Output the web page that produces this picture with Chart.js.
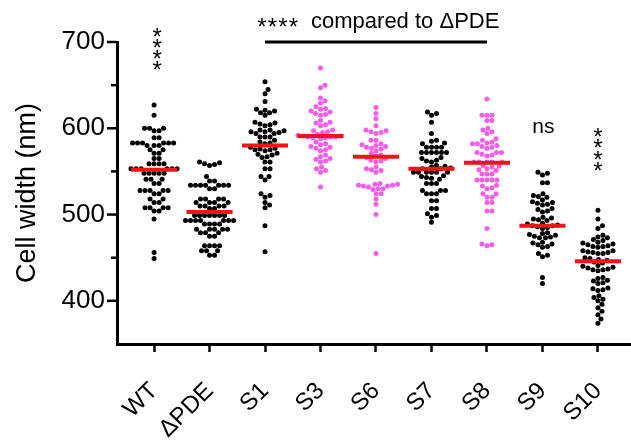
<!DOCTYPE html>
<html><head><meta charset="utf-8">
<script src="https://cdn.jsdelivr.net/npm/chart.js@4.4.1/dist/chart.umd.min.js"></script>
<style>html,body{margin:0;padding:0;background:#fff;overflow:hidden}#wrap{width:631px;height:441px;overflow:hidden}</style>
</head><body><div id="wrap"><canvas id="c" width="636" height="441"></canvas></div>
<script>
const categories = ['WT','ΔPDE','S1','S3','S6','S7','S8','S9','S10'];
const WT = [627,615,600,600,600,597,597,589,589,583,583,583,583,583,583,580,580,580,575,575,571,571,565,565,559,559,559,559,553,553,553,553,553,553,548,548,548,548,548,541,541,541,536,536,528,528,528,528,528,524,524,518,518,514,514,508,508,508,508,504,504,495,456,449];
const dPDE = [561,560,559,558,557,544,539,539,534,534,534,534,534,534,534,530,530,518,518,518,518,514,514,514,514,510,510,510,510,507,507,499,499,499,499,499,499,499,493,493,493,493,493,493,493,489,489,489,489,483,483,483,483,483,479,479,479,475,475,464,464,464,464,458,458,458,453,453];
const S1 = [654,645,640,631,622,621,620,618,618,615,607,606,605,604,603,598,598,597,596,596,595,594,594,590,590,590,586,584,583,582,578,577,576,575,575,574,571,570,569,567,566,561,561,553,553,544,544,540,524,522,520,514,511,508,487,457];
const S3 = [670,650,647,635,632,629,625,623,622,620,619,617,616,615,609,607,606,604,603,598,597,596,595,593,592,591,591,590,590,590,589,589,588,584,582,581,579,578,577,575,574,569,567,565,564,562,561,555,553,551,549,532];
const S6 = [624,617,611,603,598,597,596,595,594,586,586,582,581,580,579,578,577,576,574,571,569,568,566,565,563,562,561,555,553,552,551,549,536,535,535,534,534,533,533,532,530,530,529,524,524,518,512,500,455];
const S7 = [619,617,615,607,594,586,585,583,582,578,578,578,578,572,572,572,572,572,572,566,565,563,562,561,557,556,555,554,553,553,549,549,549,549,549,549,545,544,543,542,541,536,536,536,528,528,528,524,524,524,516,516,507,507,501,499,497,491];
const S8 = [634,615,615,615,609,609,600,598,596,594,588,586,584,583,582,582,580,579,578,577,572,572,572,570,569,568,561,561,561,561,561,557,556,555,553,552,551,547,547,547,540,540,540,540,540,534,533,531,530,524,524,520,520,514,514,504,504,484,466,465,464];
const S9 = [549,548,546,537,537,524,522,521,520,517,515,514,513,512,511,507,506,504,503,497,496,495,494,493,490,489,488,487,487,486,485,484,479,478,477,476,475,474,473,473,468,467,466,465,463,462,455,453,451,427,420];
const S10 = [505,495,487,484,476,474,473,471,470,468,467,466,465,464,463,463,462,458,458,457,456,456,455,455,450,449,448,447,445,444,441,440,439,438,437,436,436,435,427,426,424,423,421,420,415,414,413,412,406,404,402,400,396,392,388,384,379,374];
const seriesValues = [WT, dPDE, S1, S3, S6, S7, S8, S9, S10];
const medians = [552,503,580,591,567,553,560,487,446];
const pinkGroups = ['S3','S6','S8'];
const yTickLabels = [400,500,600,700];
const yMinorTicks = [450,550,650];
const compareLabel = 'compared to ΔPDE';
const compareFrom = 'S1', compareTo = 'S8';
const stars = '****';
const nsLabel = 'ns';

const FAMILY = '"Liberation Sans", Arial, Helvetica, sans-serif';
const X_MIN = -0.668, X_MAX = 8.614, Y_MIN = 350, Y_MAX = 700;
const AREA_W = 631 - 117, AREA_H = 344 - 42;
const pxX = AREA_W / (X_MAX - X_MIN), pxY = AREA_H / (Y_MAX - Y_MIN);
const DIAM = 5.0;

function swarmOffsets(values){
  const idx = values.map((v,i)=>i).sort((a,b)=>values[a]-values[b]);
  const placed = []; const off = new Array(values.length).fill(0);
  for (const i of idx){
    const py = values[i]*pxY;
    for (let s=0; s<400; s++){
      const cand = (s===0?0:(s%2===1?1:-1)*Math.ceil(s/2)*0.5);
      let ok = true;
      for (const p of placed){
        const dx = cand-p[0], dy = py-p[1];
        if (dx*dx+dy*dy < DIAM*DIAM){ ok=false; break; }
      }
      if (ok){ placed.push([cand,py]); off[i]=cand/pxX; break; }
    }
  }
  return off;
}

const datasets = [];
const medData = [];
categories.forEach((c,i)=>{
  medData.push({x:i-0.415,y:medians[i]},{x:i+0.415,y:medians[i]},{x:i+0.5,y:null});
});
datasets.push({type:'line', data:medData, borderColor:'#f01414', borderWidth:4, pointRadius:0, spanGaps:false, order:0, borderCapStyle:'butt'});
seriesValues.forEach((vals,i)=>{
  const off = swarmOffsets(vals);
  const col = pinkGroups.includes(categories[i]) ? '#f45de6' : '#000000';
  datasets.push({type:'scatter', data: vals.map((v,j)=>({x:i+off[j], y:v})), pointRadius:2.5, pointBackgroundColor:col, pointBorderWidth:0, order:1});
});

function drawStar(ctx, x, y){
  const m = ctx.measureText('*');
  const A = m.actualBoundingBoxAscent, D = m.actualBoundingBoxDescent;
  ctx.fillText('*', x, y + (A - D)/2);
}

const annot = {
  id:'annot',
  afterDraw(chart){
    const {ctx, chartArea} = chart; const x = chart.scales.x, y = chart.scales.y;
    ctx.save();
    ctx.strokeStyle = '#000'; ctx.fillStyle = '#000'; ctx.lineWidth = 2.5;
    const left = chartArea.left - 1;
    yTickLabels.forEach(v=>{ const py = y.getPixelForValue(v); ctx.beginPath(); ctx.moveTo(left-9,py); ctx.lineTo(left,py); ctx.stroke(); });
    yMinorTicks.forEach(v=>{ const py = y.getPixelForValue(v); ctx.beginPath(); ctx.moveTo(left-5,py); ctx.lineTo(left,py); ctx.stroke(); });
    const x1 = x.getPixelForValue(categories.indexOf(compareFrom));
    const x2 = x.getPixelForValue(categories.indexOf(compareTo));
    const by = y.getPixelForValue(Y_MAX);
    ctx.lineWidth = 3; ctx.beginPath(); ctx.moveTo(x1, by); ctx.lineTo(x2, by); ctx.stroke();
    ctx.font = '22px ' + FAMILY; ctx.textAlign = 'left'; ctx.textBaseline = 'alphabetic';
    ctx.fillText(compareLabel, x1 + 46, by - 14);
    ctx.font = '24px ' + FAMILY; ctx.textAlign = 'center';
    for (let k=0;k<stars.length;k++) drawStar(ctx, x1 - 3 + k*10.5, by - 19.5);
    const wx = x.getPixelForValue(0) + 3;
    for (let k=0;k<stars.length;k++) drawStar(ctx, wx, by - 10 + k*11.3);
    const sx = x.getPixelForValue(8);
    const sTop = y.getPixelForValue(595);
    for (let k=0;k<stars.length;k++) drawStar(ctx, sx, sTop + k*11.3);
    ctx.font = '21px ' + FAMILY;
    ctx.fillText(nsLabel, x.getPixelForValue(7) + 1, y.getPixelForValue(600) + 5);
    ctx.restore();
  }
};

new Chart(document.getElementById('c'), {
  type:'scatter',
  data:{datasets},
  options:{
    responsive:false, animation:false, devicePixelRatio:1,
    layout:{padding:{top:42,left:0,right:0,bottom:0}},
    plugins:{legend:{display:false}, tooltip:{enabled:false}},
    scales:{
      x:{type:'linear', min:X_MIN, max:X_MAX,
        afterBuildTicks: s => { s.ticks = categories.map((c,i)=>({value:i})); },
        afterFit: s => { s.height = 97; s.paddingRight = 0; s.paddingLeft = 0; },
        grid:{display:true, drawOnChartArea:false, drawTicks:true, tickLength:8, tickWidth:2.5, tickColor:'#000'},
        border:{display:true, width:3, color:'#000'},
        ticks:{autoSkip:false, maxRotation:45, minRotation:45, padding:25, color:'#000', font:{size:24, family:FAMILY},
          callback:(v,i)=>categories[i]}
      },
      y:{type:'linear', min:Y_MIN, max:Y_MAX,
        afterBuildTicks: s => { s.ticks = yTickLabels.map(v=>({value:v})); },
        afterFit: s => { s.width = 117; s.paddingTop = 0; s.paddingBottom = 0; },
        grid:{display:true, drawOnChartArea:false, drawTicks:true, tickLength:8, tickColor:'rgba(0,0,0,0)'},
        border:{display:true, width:3, color:'#000'},
        ticks:{padding:4, color:'#000', font:{size:26, family:FAMILY}},
        title:{display:true, text:'Cell width (nm)', color:'#000', font:{size:27, family:FAMILY}, padding:{top:11,bottom:0}}
      }
    }
  },
  plugins:[annot]
});
</script></body></html>
